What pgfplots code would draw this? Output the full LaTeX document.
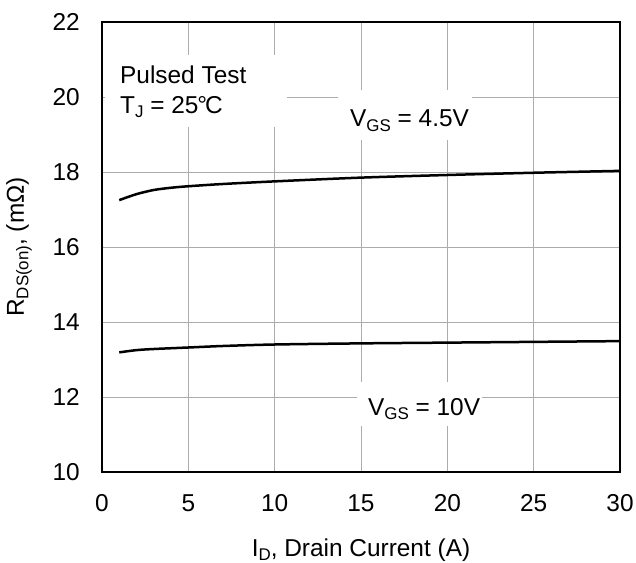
\documentclass[border=0pt]{standalone}
\usepackage{pgfplots}
\pgfplotsset{compat=1.18}
\usepackage{fontspec}
\setmainfont{Liberation Sans}
\newcommand{\sub}[1]{\raisebox{-0.35ex}{\fontsize{17}{17}\selectfont #1}}

\begin{document}
\fontsize{24.5}{29}\selectfont
\begin{tikzpicture}
\begin{axis}[
    scale only axis,
    width=518bp, height=450bp,
    xmin=0, xmax=30, ymin=10, ymax=22,
    xtick={0,5,...,30}, ytick={10,12,...,22},
    grid=major,
    grid style={gray!65, line width=0.9bp},
    major tick length=0pt,
    axis line style={line width=2.8bp},
    tick label style={font=\fontsize{24.5}{29}\selectfont},
    /pgf/number format/assume math mode=true,
    yticklabel style={xshift=-14bp},
    xticklabel style={yshift=-14bp},
    xlabel={I\sub{D}, Drain Current (A)},
    ylabel={R\sub{DS(on)}, (mΩ)},
    label style={font=\fontsize{24.5}{29}\selectfont},
    xlabel style={at={(axis description cs:0.5,-0.173)}, anchor=center},
    ylabel style={at={(axis description cs:-0.16,0.5)}, anchor=center},
]
\coordinate (bl) at (axis description cs:0,0);
\coordinate (tr) at (axis description cs:1,1);
% white boxes behind the annotations
\fill[white] (axis cs:0.15,21.12) rectangle (axis cs:10.7,19.2);
\fill[white] (axis cs:13.67,20.19) rectangle (axis cs:21.4,18.85);
\fill[white] (axis cs:14.77,12.4) rectangle (axis cs:22.0,11.23);

\node[anchor=base west, inner sep=0pt] at (axis cs:1.04,20.35) {Pulsed Test};
\node[anchor=base west, inner sep=0pt] at (axis cs:1.04,19.57)
  {T\sub{J} = 25\kern-0.05em°\kern-0.08emC};
\node[anchor=base west, inner sep=0pt] at (axis cs:14.36,19.2) {V\sub{GS} = 4.5V};
\node[anchor=base west, inner sep=0pt] at (axis cs:15.4,11.52) {V\sub{GS} = 10V};

\addplot[black, line width=2.5bp, smooth] coordinates {
 (1,17.25) (2,17.41) (3,17.52) (4,17.58) (5,17.62) (7,17.68)
 (10,17.75) (15,17.85) (20,17.92) (25,17.98) (30,18.03)};
\addplot[black, line width=2.5bp, smooth] coordinates {
 (1,13.19) (2,13.25) (3,13.28) (5,13.32) (7,13.36)
 (10,13.40) (15,13.43) (20,13.45) (25,13.47) (30,13.49)};
\end{axis}
\pgfresetboundingbox
\path[use as bounding box] ([shift={(-102bp,-91bp)}]bl) rectangle ([shift={(16bp,22bp)}]tr);
\end{tikzpicture}
\end{document}
